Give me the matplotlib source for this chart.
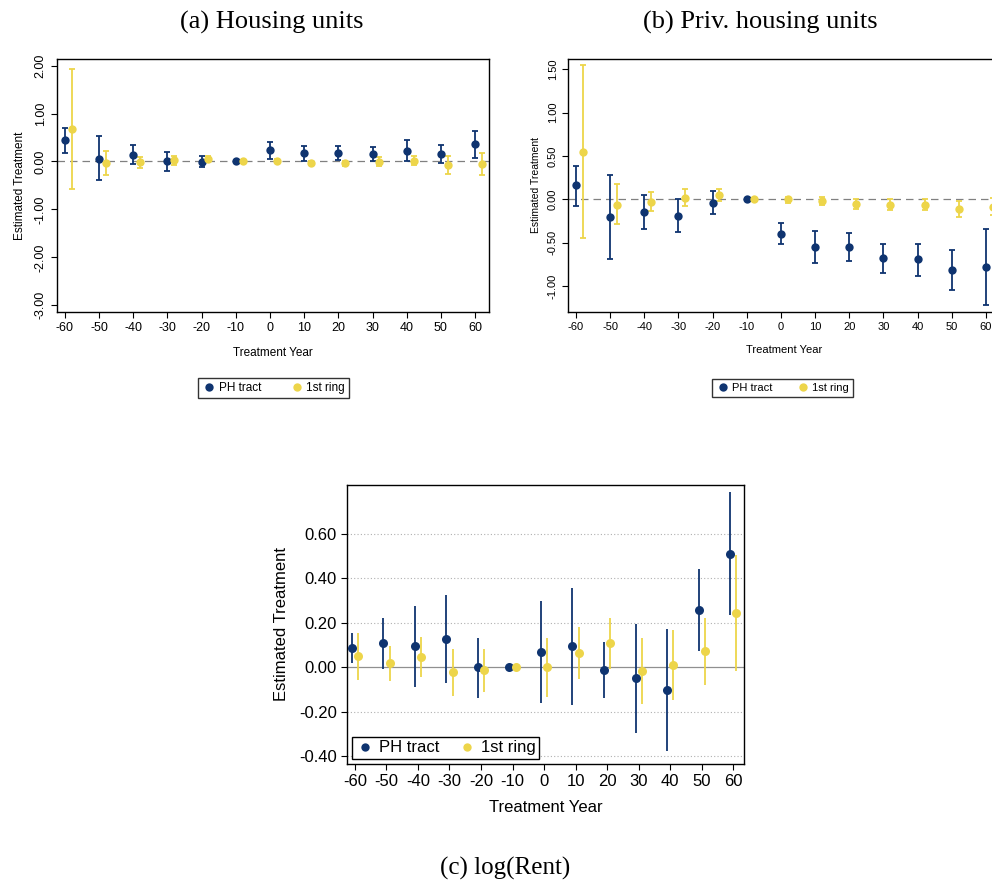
import numpy as np
import matplotlib
matplotlib.use("Agg")
import matplotlib.pyplot as plt
from matplotlib.lines import Line2D
from matplotlib.ticker import FormatStrFormatter

plt.rcParams['font.family'] = ['Liberation Sans', 'DejaVu Sans']
plt.rcParams['axes.unicode_minus'] = False

years = np.array([-60, -50, -40, -30, -20, -10, 0, 10, 20, 30, 40, 50, 60])

# (a) Housing units
a_ph = [0.44, 0.06, 0.13, 0.00, -0.01, 0.00, 0.23, 0.17, 0.18, 0.16, 0.22, 0.16, 0.36]
a_ph_hi = [0.70, 0.53, 0.34, 0.20, 0.12, 0.00, 0.41, 0.33, 0.33, 0.31, 0.44, 0.35, 0.63]
a_ph_lo = [0.18, -0.39, -0.06, -0.20, -0.12, 0.00, 0.06, 0.02, 0.04, 0.01, 0.00, -0.03, 0.08]
a_ring = [0.68, -0.04, -0.02, 0.03, 0.06, 0.00, 0.01, -0.03, -0.04, -0.01, 0.01, -0.07, -0.06]
a_ring_hi = [1.94, 0.22, 0.09, 0.12, 0.12, 0.03, 0.05, 0.02, 0.01, 0.09, 0.11, 0.11, 0.17]
a_ring_lo = [-0.58, -0.29, -0.14, -0.08, 0.01, -0.03, -0.03, -0.08, -0.10, -0.10, -0.08, -0.26, -0.28]

# (b) Priv. housing units
b_ph = [0.16, -0.20, -0.15, -0.19, -0.04, 0.00, -0.40, -0.55, -0.55, -0.68, -0.69, -0.81, -0.78]
b_ph_hi = [0.39, 0.28, 0.05, 0.00, 0.10, 0.00, -0.27, -0.37, -0.39, -0.52, -0.51, -0.58, -0.34]
b_ph_lo = [-0.08, -0.69, -0.34, -0.38, -0.17, 0.00, -0.52, -0.73, -0.71, -0.85, -0.88, -1.05, -1.22]
b_ring = [0.55, -0.06, -0.03, 0.02, 0.05, 0.00, 0.00, -0.02, -0.05, -0.06, -0.06, -0.11, -0.09]
b_ring_hi = [1.55, 0.18, 0.09, 0.12, 0.12, 0.02, 0.03, 0.03, 0.00, 0.00, 0.00, -0.02, 0.01]
b_ring_lo = [-0.45, -0.29, -0.14, -0.08, -0.02, -0.02, -0.04, -0.07, -0.11, -0.12, -0.12, -0.20, -0.18]

# (c) log(Rent)
c_ph = [0.088, 0.110, 0.094, 0.127, 0.000, 0.000, 0.070, 0.094, -0.010, -0.050, -0.103, 0.258, 0.511]
c_ph_hi = [0.153, 0.224, 0.276, 0.325, 0.132, 0.000, 0.300, 0.358, 0.114, 0.193, 0.172, 0.440, 0.786]
c_ph_lo = [0.020, -0.006, -0.090, -0.070, -0.137, 0.000, -0.160, -0.171, -0.137, -0.296, -0.378, 0.075, 0.237]
c_ring = [0.050, 0.018, 0.047, -0.022, -0.013, 0.000, 0.000, 0.063, 0.108, -0.016, 0.010, 0.072, 0.243]
c_ring_hi = [0.153, 0.097, 0.136, 0.084, 0.082, 0.000, 0.130, 0.181, 0.223, 0.132, 0.169, 0.223, 0.504]
c_ring_lo = [-0.057, -0.060, -0.042, -0.128, -0.110, 0.000, -0.132, -0.054, -0.007, -0.165, -0.148, -0.080, -0.015]

navy = '#0F3470'
yellow = '#EDD54A'


def draw_err(ax, x, y, lo, hi, color, cap, lw, ms):
    y = np.array(y)
    yerr = np.vstack([y - np.array(lo), np.array(hi) - y])
    ax.errorbar(x, y, yerr=yerr, fmt='none', ecolor=color,
                elinewidth=lw, capsize=cap, capthick=lw, zorder=2)
    ax.plot(x, y, 'o', color=color, markersize=ms, markeredgewidth=0, zorder=3)


def legend_handles():
    return [Line2D([], [], marker='o', ls='none', color=navy, markersize=6, markeredgewidth=0),
            Line2D([], [], marker='o', ls='none', color=yellow, markersize=6, markeredgewidth=0)]


fig = plt.figure(figsize=(9.92, 8.81), dpi=100)

# ---- panel a
ax1 = fig.add_axes([0.0575, 0.6459, 0.4355, 0.2872])
draw_err(ax1, years, a_ph, a_ph_lo, a_ph_hi, navy, 2.2, 1.3, 6)
draw_err(ax1, years + 2, a_ring, a_ring_lo, a_ring_hi, yellow, 2.2, 1.3, 6)
ax1.axhline(0, color='#808080', ls=(0, (6, 4)), lw=0.9, zorder=1)
ax1.set_xlim(-62.3, 64.1)
ax1.set_ylim(-3.14, 2.14)
ax1.set_xticks(years)
ax1.set_yticks([-3, -2, -1, 0, 1, 2])
ax1.yaxis.set_major_formatter(FormatStrFormatter('%.2f'))
ax1.tick_params(labelsize=9, length=4, width=0.8)
plt.setp(ax1.get_yticklabels(), rotation=90, va='center')
ax1.set_ylabel('Estimated Treatment', fontsize=8.5, labelpad=6)
ax1.set_xlabel('Treatment Year', fontsize=8.5, labelpad=9)
for s in ax1.spines.values():
    s.set_linewidth(1.0)
fig.legend(handles=legend_handles(), labels=['PH tract', '1st ring'], loc='center',
           bbox_to_anchor=(0.2757, 0.560), ncol=2, fontsize=8.5, frameon=True,
           fancybox=False, edgecolor='black', handletextpad=0.2, columnspacing=2.4,
           borderpad=0.35, handlelength=1.2)
fig.text(0.274, 0.975, '(a) Housing units', ha='center', va='center', fontsize=19,
         family='Liberation Serif')

# ---- panel b
ax2 = fig.add_axes([0.5726, 0.6459, 0.4355, 0.2872])
draw_err(ax2, years, b_ph, b_ph_lo, b_ph_hi, navy, 2.2, 1.3, 6)
draw_err(ax2, years + 2, b_ring, b_ring_lo, b_ring_hi, yellow, 2.2, 1.3, 6)
ax2.axhline(0, color='#808080', ls=(0, (6, 4)), lw=0.9, zorder=1)
ax2.set_xlim(-62.3, 64.1)
ax2.set_ylim(-1.30, 1.62)
ax2.set_xticks(years)
ax2.set_yticks([-1, -0.5, 0, 0.5, 1, 1.5])
ax2.yaxis.set_major_formatter(FormatStrFormatter('%.2f'))
ax2.tick_params(labelsize=8, length=4, width=0.8)
plt.setp(ax2.get_yticklabels(), rotation=90, va='center')
ax2.set_ylabel('Estimated Treatment', fontsize=7.5, labelpad=5)
ax2.set_xlabel('Treatment Year', fontsize=8, labelpad=9)
for s in ax2.spines.values():
    s.set_linewidth(1.0)
fig.legend(handles=legend_handles(), labels=['PH tract', '1st ring'], loc='center',
           bbox_to_anchor=(0.789, 0.5596), ncol=2, fontsize=8, frameon=True,
           fancybox=False, edgecolor='black', handletextpad=0.2, columnspacing=2.2,
           borderpad=0.4, handlelength=1.2)
fig.text(0.766, 0.975, '(b) Priv. housing units', ha='center', va='center', fontsize=19,
         family='Liberation Serif')

# ---- panel c
ax3 = fig.add_axes([0.3501, 0.1331, 0.3999, 0.3163])
draw_err(ax3, years - 1, c_ph, c_ph_lo, c_ph_hi, navy, 0, 1.3, 6.5)
draw_err(ax3, years + 1, c_ring, c_ring_lo, c_ring_hi, yellow, 0, 1.3, 6.5)
ax3.axhline(0, color='#909090', lw=0.9, zorder=1)
for yv in [-0.4, -0.2, 0.2, 0.4, 0.6]:
    ax3.axhline(yv, color='#b0b0b0', ls=(0, (1, 2)), lw=0.8, zorder=0)
ax3.set_xlim(-62.4, 63.4)
ax3.set_ylim(-0.433, 0.819)
ax3.set_xticks(years)
ax3.set_yticks([-0.4, -0.2, 0, 0.2, 0.4, 0.6])
ax3.yaxis.set_major_formatter(FormatStrFormatter('%.2f'))
ax3.tick_params(labelsize=12, length=4, width=0.8)
ax3.set_ylabel('Estimated Treatment', fontsize=12, labelpad=7)
ax3.set_xlabel('Treatment Year', fontsize=12, labelpad=8)
for s in ax3.spines.values():
    s.set_linewidth(1.0)
ax3.legend(handles=legend_handles(), labels=['PH tract', '1st ring'], loc='lower left',
           bbox_to_anchor=(0.0, 0.0), ncol=2, fontsize=12, frameon=True,
           fancybox=False, edgecolor='black', framealpha=1, handletextpad=0.3,
           columnspacing=1.1, borderpad=0.2, handlelength=1.1, borderaxespad=0.3)
fig.text(0.509, 0.0148, '(c) log(Rent)', ha='center', va='center', fontsize=18,
         family='Liberation Serif')

fig.savefig('out.png', dpi=100)
